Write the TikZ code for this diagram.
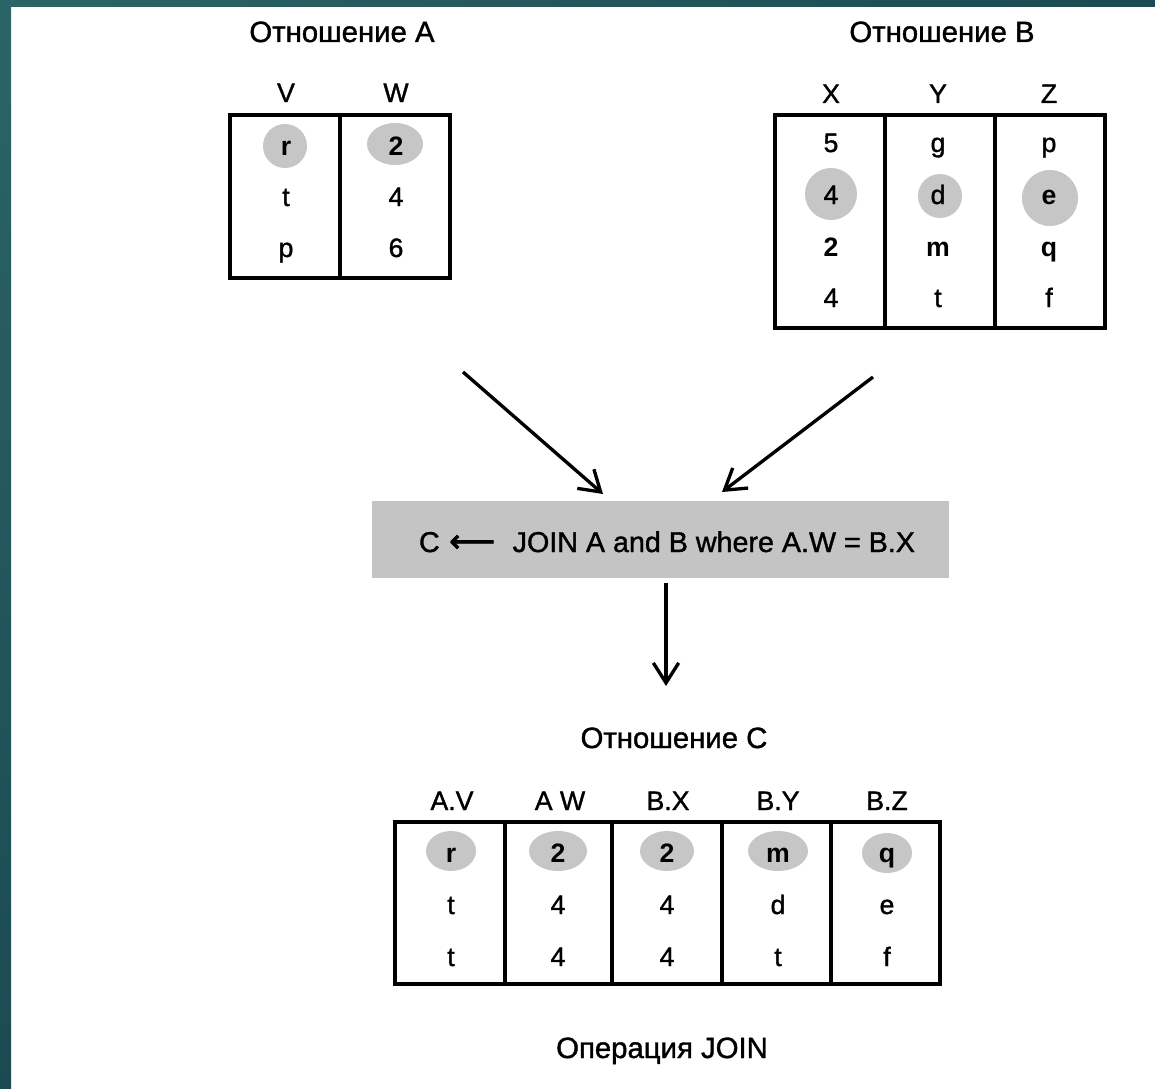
\documentclass[tikz,border=0pt]{standalone}
\usepackage{fontspec}
\setmainfont{Liberation Sans}[UprightFeatures={FakeBold=1.3}]
\newfontfamily\arrowfont{DejaVu Sans}[FakeBold=2.5]
\usetikzlibrary{arrows.meta}
\definecolor{frameA}{HTML}{2B6467}
\definecolor{frameB}{HTML}{1C4A52}
\definecolor{hlgray}{HTML}{C6C6C6}
\definecolor{boxgray}{HTML}{C4C4C4}
\tikzset{
  tbl/.style={draw=black, line width=2.5pt},
  title/.style={anchor=base, font=\fontsize{22}{26}\selectfont, inner sep=0pt},
  head/.style={anchor=base, font=\fontsize{20}{24}\selectfont, inner sep=0pt},
  cell/.style={anchor=base, font=\fontsize{20}{24}\selectfont, inner sep=0pt},
  bcell/.style={cell, font=\fontsize{20}{24}\selectfont\bfseries},
  hl/.style={fill=hlgray, draw=none},
  flow/.style={draw=black, line width=2.5pt, -{Straight Barb[length=15pt, width=19pt, line width=2.5pt]}},
}
\begin{document}
\begin{tikzpicture}[x=0.75pt, y=-0.75pt]
\useasboundingbox (0,0) rectangle (1155,1088);
\fill[white] (0,0) rectangle (1155,1088);
% page frame
\shade[top color=frameA, bottom color=frameB] (0,0) rectangle (11,1088);
\shade[left color=frameA, right color=frameB] (0,0) rectangle (1155,7);

% ---------- relation A ----------
\node[title] (tA) at (342,42) {Отношение A};
\node[head] (hV) at (286,102) {V};
\node[head] (hW) at (396,102) {W};
\draw[tbl] (230,115) rectangle (450,278);
\draw[tbl] (340,115) -- (340,278);
\fill[hl] (285,146) circle [radius=22];
\fill[hl] (395,144) ellipse [x radius=28, y radius=21];
\node[bcell] (a11) at (286,155) {r};
\node[bcell] (a12) at (396,155) {2};
\node[cell] (a21) at (286,206) {t};
\node[cell] (a22) at (396,206) {4};
\node[cell] (a31) at (286,257) {p};
\node[cell] (a32) at (396,257) {6};

% ---------- relation B ----------
\node[title] (tB) at (942,42) {Отношение B};
\node[head] (hX) at (831,103) {X};
\node[head] (hY) at (938,103) {Y};
\node[head] (hZ) at (1049,103) {Z};
\draw[tbl] (775,115) rectangle (1105,328);
\draw[tbl] (885,115) -- (885,328);
\draw[tbl] (995,115) -- (995,328);
\fill[hl] (831,194) circle [radius=26];
\fill[hl] (940,196) circle [radius=22];
\fill[hl] (1050,198) circle [radius=28];
\node[cell] (b11) at (831,152) {5};
\node[cell] (b12) at (938,152) {g};
\node[cell] (b13) at (1049,152) {p};
\node[cell] (b21) at (831,204) {4};
\node[cell] (b22) at (938,204) {d};
\node[bcell] (b23) at (1049,204) {e};
\node[bcell] (b31) at (831,256) {2};
\node[bcell] (b32) at (938,256) {m};
\node[bcell] (b33) at (1049,256) {q};
\node[cell] (b41) at (831,307) {4};
\node[cell] (b42) at (938,307) {t};
\node[cell] (b43) at (1049,307) {f};

% ---------- join operation (box 577 x 77 px) ----------
\node[fill=boxgray, minimum width=432.75pt, minimum height=57.75pt, inner sep=0pt] (op) at (660.5,539.5) {};
\node[anchor=base, font=\fontsize{21.5}{26}\selectfont, inner sep=0pt] (optxt) at (667,552)
  {C\,\,{\arrowfont\fontsize{24}{26}\selectfont ⟵}\,\, JOIN A and B where A.W = B.X};

\coordinate (fromA) at (463,372);
\coordinate (toA)   at (603,494);
\coordinate (fromB) at (873,377);
\coordinate (toB)   at (722,492);
\coordinate (toC)   at (666,686);
\draw[flow] (fromA) -- (toA);
\draw[flow] (fromB) -- (toB);
\draw[flow] (op.south -| toC) ++(0,5) -- (toC);

% ---------- relation C ----------
\node[title] (tC) at (674,748) {Отношение C};
\node[head] (hAV) at (452,810) {A.V};
\node[head] (hAW) at (560,810) {A W};
\node[head] (hBX) at (668,810) {B.X};
\node[head] (hBY) at (778,810) {B.Y};
\node[head] (hBZ) at (887,810) {B.Z};
\draw[tbl] (395,822) rectangle (940,984);
\foreach \xx in {505,612,722,831} \draw[tbl] (\xx,822) -- (\xx,984);
\fill[hl] (451,851) ellipse [x radius=25, y radius=20];
\fill[hl] (558,851) ellipse [x radius=29, y radius=20];
\fill[hl] (667,851) ellipse [x radius=27, y radius=20];
\fill[hl] (778,851) ellipse [x radius=30, y radius=20];
\fill[hl] (887,853) ellipse [x radius=25, y radius=20];
\node[bcell] (c11) at (451,862) {r};
\node[bcell] (c12) at (558,862) {2};
\node[bcell] (c13) at (667,862) {2};
\node[bcell] (c14) at (778,862) {m};
\node[bcell] (c15) at (887,862) {q};
\node[cell] (c21) at (451,914) {t};
\node[cell] (c22) at (558,914) {4};
\node[cell] (c23) at (667,914) {4};
\node[cell] (c24) at (778,914) {d};
\node[cell] (c25) at (887,914) {e};
\node[cell] (c31) at (451,966) {t};
\node[cell] (c32) at (558,966) {4};
\node[cell] (c33) at (667,966) {4};
\node[cell] (c34) at (778,966) {t};
\node[cell] (c35) at (887,966) {f};

\node[title] (cap) at (662,1058) {Операция JOIN};
\end{tikzpicture}
\end{document}
